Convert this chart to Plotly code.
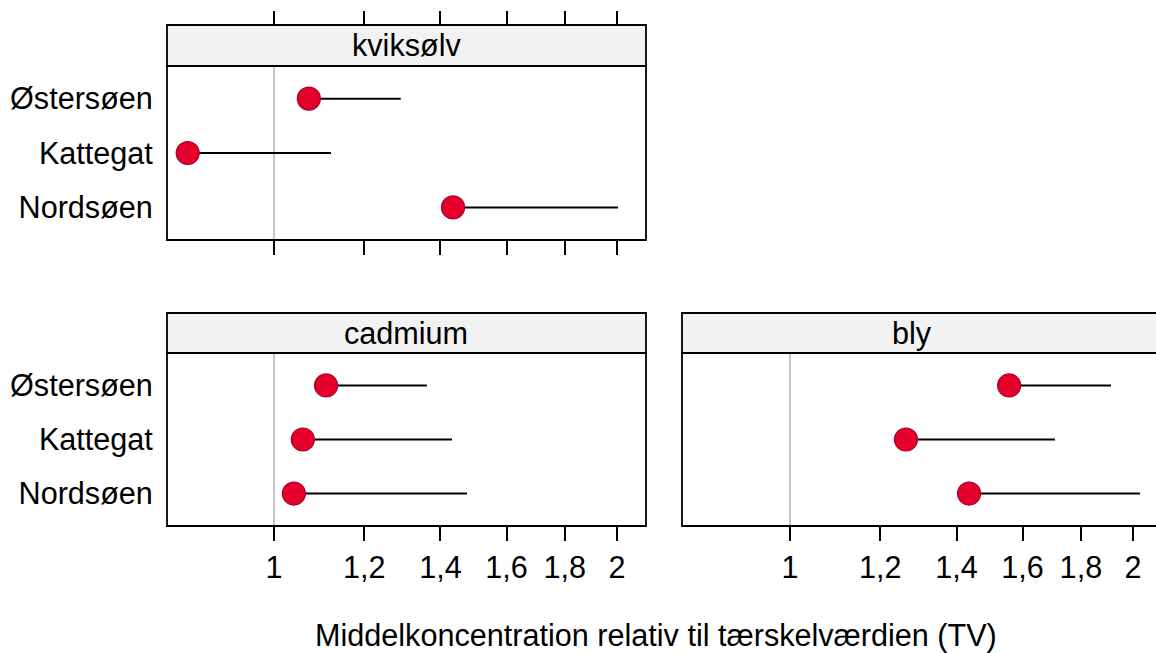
import plotly.graph_objects as go

# ---------------- data ----------------
regions = ["Østersøen", "Kattegat", "Nordsøen"]
metals = ["kviksølv", "cadmium", "bly"]

# mean concentration relative to TV (points) and upper end of line
kviksolv_mean = [1.073, 0.840, 1.436]
kviksolv_upper = [1.292, 1.122, 2.004]
cadmium_mean = [1.111, 1.060, 1.041]
cadmium_upper = [1.362, 1.433, 1.477]
bly_mean = [1.557, 1.264, 1.436]
bly_upper = [1.913, 1.708, 2.028]

tick_vals = [1, 1.2, 1.4, 1.6, 1.8, 2]
tick_text = ["1", "1,2", "1,4", "1,6", "1,8", "2"]
x_title = "Middelkoncentration relativ til tærskelværdien (TV)"

# ---------------- layout geometry ----------------
W, H = 1156, 653
FONT = "Liberation Sans, Arial, Helvetica, sans-serif"
FS = 30.6

def px(p):
    return p / W

def py(p):
    return 1 - p / H

panels = {
    # metal: (xaxis name, yaxis name, x0, x1, strip_top, plot_top, plot_bottom, range)
    "kviksølv": ("x", "y", 167, 646, 25, 66, 240, [-0.0939, 0.3265]),
    "cadmium": ("x2", "y2", 167, 646, 313, 353, 526, [-0.0939, 0.3265]),
    "bly": ("x3", "y3", 682, 1156, 313, 353, 526, [-0.0948, 0.3212]),
}
series = {
    "kviksølv": (kviksolv_mean, kviksolv_upper),
    "cadmium": (cadmium_mean, cadmium_upper),
    "bly": (bly_mean, bly_upper),
}
strip_center = {"kviksølv": 406, "cadmium": 406, "bly": 912}

fig = go.Figure()
layout = dict(
    width=W, height=H,
    margin=dict(l=0, r=0, t=0, b=0),
    paper_bgcolor="white", plot_bgcolor="white",
    showlegend=False,
    font=dict(family=FONT, size=FS, color="black"),
)
shapes = []
annotations = []

cat_order = list(reversed(regions))

for i, metal in enumerate(metals):
    xa, ya, x0, x1, st, pt, pb, rng = panels[metal]
    mean, upper = series[metal]
    lx, ly = [], []
    for r, m, u in zip(regions, mean, upper):
        lx += [m, u, None]
        ly += [r, r, None]
    fig.add_trace(go.Scatter(x=lx, y=ly, mode="lines", xaxis=xa, yaxis=ya,
                             line=dict(color="black", width=2), hoverinfo="skip"))
    fig.add_trace(go.Scatter(x=mean, y=regions, mode="markers", xaxis=xa, yaxis=ya,
                             marker=dict(size=23, color="#E4002B",
                                         line=dict(color="#A8002A", width=1.2))))
    xkey = "xaxis" if xa == "x" else "xaxis" + xa[1:]
    ykey = "yaxis" if ya == "y" else "yaxis" + ya[1:]
    show_x_labels = metal != "kviksølv"
    layout[xkey] = dict(
        domain=[px(x0), min(1.0, px(x1))], anchor=ya, type="log", range=rng,
        tickmode="array", tickvals=tick_vals, ticktext=tick_text,
        showticklabels=show_x_labels, ticks="outside", ticklen=14, tickwidth=2,
        tickcolor="black", showgrid=False, zeroline=False, showline=False,
        tickfont=dict(size=FS), fixedrange=True,
    )
    layout[ykey] = dict(
        domain=[py(pb), py(pt)], anchor=xa, type="category",
        categoryorder="array", categoryarray=cat_order, range=[-0.6, 2.6],
        showticklabels=(metal != "bly"), ticks="outside", ticklen=7,
        tickcolor="rgba(0,0,0,0)", showgrid=False, zeroline=False, showline=False,
        tickfont=dict(size=FS), fixedrange=True,
    )
    # reference line at TV = 1
    shapes.append(dict(type="line", xref=xa, yref=ya + " domain", x0=1, x1=1, y0=0, y1=1,
                       line=dict(color="#B8B8B8", width=1.6), layer="below"))
    # panel frame
    shapes.append(dict(type="rect", xref="paper", yref="paper",
                       x0=px(x0), x1=px(x1 + 8 if metal == "bly" else x1),
                       y0=py(pb), y1=py(pt), line=dict(color="black", width=1.8),
                       fillcolor="rgba(0,0,0,0)", layer="above"))
    # strip
    shapes.append(dict(type="rect", xref="paper", yref="paper",
                       x0=px(x0), x1=px(x1 + 8 if metal == "bly" else x1),
                       y0=py(pt), y1=py(st), line=dict(color="black", width=1.8),
                       fillcolor="#F2F2F2", layer="above"))
    annotations.append(dict(text=metal, xref="paper", yref="paper",
                            x=px(strip_center[metal]), y=py((st + pt) / 2),
                            showarrow=False, xanchor="center", yanchor="middle",
                            font=dict(size=FS, family=FONT, color="black")))

# top ticks for the upper panel (above the strip)
fig.add_trace(go.Scatter(x=kviksolv_mean, y=regions, mode="markers", xaxis="x4", yaxis="y",
                         marker=dict(opacity=0), hoverinfo="skip"))
layout["xaxis4"] = dict(
    overlaying="x", anchor="free", position=py(25), side="top", type="log",
    range=panels["kviksølv"][7], tickmode="array", tickvals=tick_vals,
    showticklabels=False, ticks="outside", ticklen=14, tickwidth=2, tickcolor="black",
    showgrid=False, zeroline=False, showline=False, fixedrange=True,
)

annotations.append(dict(text=x_title, xref="paper", yref="paper",
                        x=px(656), y=py(635), showarrow=False,
                        xanchor="center", yanchor="middle",
                        font=dict(size=FS, family=FONT, color="black")))

layout["shapes"] = shapes
layout["annotations"] = annotations
fig.update_layout(**layout)

fig.write_html("out.html")
